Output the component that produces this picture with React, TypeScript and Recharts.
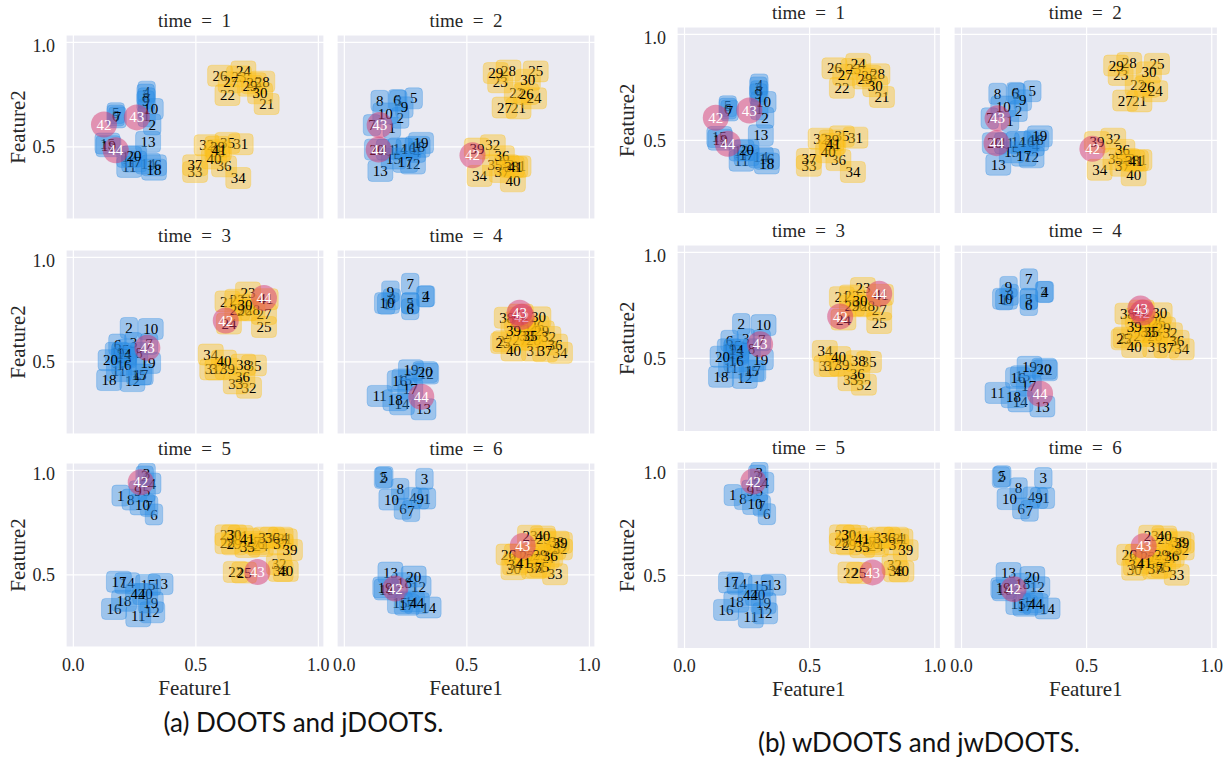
import React from 'react';
import { ScatterChart, Scatter, XAxis, YAxis, CartesianGrid } from 'recharts';

// each row is point id (index + 1) -> [Feature1, Feature2]
const time1: [number, number][] = [
  [0.299, 0.647], [0.322, 0.607], [0.295, 0.75], [0.299, 0.764], [0.173, 0.661],
  [0.173, 0.65], [0.18, 0.641], [0.299, 0.732], [0.295, 0.718], [0.316, 0.681],
  [0.228, 0.404], [0.228, 0.452], [0.305, 0.524], [0.305, 0.42], [0.139, 0.516],
  [0.329, 0.412], [0.248, 0.43], [0.329, 0.391], [0.143, 0.503], [0.248, 0.455],
  [0.789, 0.705], [0.629, 0.748], [0.676, 0.837], [0.694, 0.861], [0.737, 0.804],
  [0.599, 0.84], [0.642, 0.809], [0.771, 0.812], [0.721, 0.792], [0.762, 0.756],
  [0.683, 0.513], [0.544, 0.508], [0.497, 0.38], [0.673, 0.351], [0.629, 0.519],
  [0.615, 0.407], [0.497, 0.412], [0.588, 0.476], [0.588, 0.5], [0.574, 0.444],
  [0.594, 0.484], [0.125, 0.607], [0.259, 0.641], [0.173, 0.484],
];

const time2: [number, number][] = [
  [0.194, 0.591], [0.228, 0.639], [0.22, 0.72], [0.296, 0.476], [0.283, 0.732],
  [0.215, 0.724], [0.113, 0.604], [0.144, 0.72], [0.245, 0.689], [0.167, 0.66],
  [0.181, 0.487], [0.28, 0.42], [0.147, 0.385], [0.228, 0.492], [0.201, 0.444],
  [0.262, 0.492], [0.249, 0.428], [0.299, 0.5], [0.313, 0.519], [0.133, 0.487],
  [0.711, 0.684], [0.704, 0.76], [0.636, 0.809], [0.774, 0.732], [0.781, 0.861],
  [0.742, 0.753], [0.654, 0.688], [0.67, 0.865], [0.618, 0.853], [0.749, 0.821],
  [0.711, 0.407], [0.606, 0.508], [0.663, 0.412], [0.552, 0.361], [0.615, 0.412],
  [0.643, 0.455], [0.643, 0.38], [0.683, 0.404], [0.541, 0.492], [0.688, 0.335],
  [0.697, 0.404], [0.523, 0.46], [0.144, 0.604], [0.14, 0.487],
];

const time3: [number, number][] = [
  [0.166, 0.543], [0.227, 0.662], [0.245, 0.59], [0.22, 0.527], [0.214, 0.559],
  [0.18, 0.583], [0.309, 0.586], [0.268, 0.543], [0.193, 0.543], [0.316, 0.657],
  [0.186, 0.456], [0.241, 0.408], [0.207, 0.521], [0.207, 0.54], [0.268, 0.44],
  [0.207, 0.487], [0.275, 0.44], [0.146, 0.413], [0.305, 0.495], [0.152, 0.508],
  [0.629, 0.789], [0.669, 0.797], [0.713, 0.832], [0.635, 0.683], [0.778, 0.667],
  [0.697, 0.746], [0.778, 0.729], [0.731, 0.749], [0.669, 0.749], [0.701, 0.773],
  [0.567, 0.464], [0.717, 0.376], [0.663, 0.397], [0.561, 0.535], [0.737, 0.483],
  [0.69, 0.427], [0.588, 0.464], [0.694, 0.487], [0.629, 0.467], [0.615, 0.506],
  [0.785, 0.8], [0.622, 0.698], [0.302, 0.567], [0.778, 0.805],
];

const time4: [number, number][] = [
  [0.171, 0.778], [0.33, 0.813], [0.269, 0.779], [0.333, 0.814], [0.269, 0.781],
  [0.269, 0.752], [0.269, 0.873], [0.194, 0.8], [0.188, 0.837], [0.174, 0.781],
  [0.144, 0.337], [0.334, 0.444], [0.323, 0.273], [0.235, 0.297], [0.245, 0.416],
  [0.226, 0.408], [0.269, 0.371], [0.208, 0.317], [0.272, 0.46], [0.33, 0.451],
  [0.731, 0.67], [0.656, 0.598], [0.704, 0.689], [0.758, 0.654], [0.648, 0.59],
  [0.785, 0.67], [0.717, 0.606], [0.772, 0.606], [0.806, 0.646], [0.792, 0.713],
  [0.774, 0.554], [0.833, 0.619], [0.745, 0.625], [0.88, 0.543], [0.758, 0.625],
  [0.86, 0.583], [0.819, 0.551], [0.663, 0.711], [0.69, 0.649], [0.69, 0.554],
  [0.72, 0.726], [0.724, 0.716], [0.715, 0.735], [0.314, 0.333],
];

const time5: [number, number][] = [
  [0.193, 0.879], [0.291, 0.971], [0.299, 0.984], [0.322, 0.937], [0.299, 0.9],
  [0.329, 0.789], [0.309, 0.829], [0.234, 0.86], [0.264, 0.9], [0.282, 0.837],
  [0.265, 0.302], [0.322, 0.321], [0.356, 0.456], [0.22, 0.46], [0.305, 0.451],
  [0.166, 0.337], [0.186, 0.467], [0.207, 0.376], [0.316, 0.368], [0.293, 0.408],
  [0.683, 0.686], [0.663, 0.514], [0.629, 0.689], [0.765, 0.638], [0.697, 0.511],
  [0.751, 0.648], [0.735, 0.657], [0.629, 0.651], [0.656, 0.646], [0.656, 0.689],
  [0.863, 0.67], [0.839, 0.551], [0.785, 0.678], [0.846, 0.678], [0.71, 0.633],
  [0.812, 0.678], [0.846, 0.646], [0.846, 0.519], [0.884, 0.619], [0.867, 0.519],
  [0.71, 0.673], [0.275, 0.943], [0.751, 0.514], [0.264, 0.408],
];

const time6: [number, number][] = [
  [0.337, 0.865], [0.158, 0.963], [0.327, 0.959], [0.28, 0.868], [0.163, 0.968],
  [0.239, 0.816], [0.272, 0.805], [0.228, 0.911], [0.31, 0.865], [0.192, 0.86],
  [0.276, 0.373], [0.303, 0.444], [0.188, 0.511], [0.344, 0.344], [0.227, 0.365],
  [0.172, 0.43], [0.255, 0.357], [0.245, 0.46], [0.167, 0.44], [0.283, 0.492],
  [0.704, 0.597], [0.745, 0.589], [0.758, 0.687], [0.826, 0.581], [0.813, 0.671],
  [0.67, 0.597], [0.772, 0.575], [0.853, 0.625], [0.799, 0.597], [0.69, 0.527],
  [0.79, 0.535], [0.88, 0.622], [0.86, 0.503], [0.697, 0.549], [0.806, 0.54],
  [0.84, 0.59], [0.774, 0.532], [0.867, 0.659], [0.88, 0.654], [0.81, 0.684],
  [0.731, 0.559], [0.208, 0.435], [0.728, 0.638], [0.296, 0.365],
];

const timeSteps = [1, 2, 3, 4, 5, 6];
const pointsByTime = [time1, time2, time3, time4, time5, time6];
// ids drawn as circles at each time step
const circleIds = [[42, 43, 44], [42, 43, 44], [42, 43, 44], [42, 43, 44], [42, 43], [42, 43]];

const xTicks = [0, 0.5, 1];
const yTicks = [0.5, 1];
const X_DOMAIN: [number, number] = [-0.03, 1.023];
const Y_DOMAIN: [number, number] = [0.155, 1.035];

const SERIF = '"Liberation Serif", "Times New Roman", serif';
const BLUE = '#2a8be3';
const YELLOW = '#fdbf14';
const PINK = '#d8326c';

const figures = [
  {
    colLefts: [65.5, 337], rowTops: [35, 249.5, 463.3], w: 258, h: 184,
    yAxisW: 66, yLabelOffset: 17.7,
    caption: '(a) DOOTS and jDOOTS.', captionX: 303.5, captionY: 722,
  },
  {
    colLefts: [676.7, 953.5], rowTops: [27.3, 245, 461.5], w: 263.5, h: 186.5,
    yAxisW: 60, yLabelOffset: 10,
    caption: '(b) wDOOTS and jwDOOTS.', captionX: 919, captionY: 742,
  },
];

const buildData = (idx: number) =>
  pointsByTime[idx].map(([x, y], i) => {
    const id = i + 1;
    let kind = 'blue';
    if (circleIds[idx].includes(id)) kind = 'circle';
    else if (id >= 21 && id <= 41) kind = 'yellow';
    return { x, y, id, kind };
  });

const PointMark = (props: any) => {
  const { cx, cy, payload } = props;
  if (cx == null || cy == null) return null;
  const label = String(payload.id);
  if (payload.kind === 'circle') {
    return (
      <g>
        <circle cx={cx} cy={cy} r={13} fill={PINK} fillOpacity={0.48} />
        <text x={cx} y={cy} dy="0.34em" textAnchor="middle" fontSize={15} fontFamily={SERIF} fill="#fff">
          {label}
        </text>
      </g>
    );
  }
  const color = payload.kind === 'blue' ? BLUE : YELLOW;
  const w = label.length * 7.5 + 10;
  return (
    <g>
      <rect x={cx - w / 2} y={cy - 10.5} width={w} height={21} rx={4} ry={4}
        fill={color} fillOpacity={0.4} stroke={color} strokeOpacity={0.3} strokeWidth={1} />
      <text x={cx} y={cy} dy="0.34em" textAnchor="middle" fontSize={15} fontFamily={SERIF} fill="#000">
        {label}
      </text>
    </g>
  );
};

const tickStyle = { fontFamily: SERIF, fontSize: 18, fill: '#262626' };
const PAD = 20;

const Panel = ({ fig, idx }: { fig: any; idx: number }) => {
  const col = idx % 2;
  const row = Math.floor(idx / 2);
  const showY = col === 0;
  const showX = row === 2;
  const yw = showY ? fig.yAxisW : 0;
  const xh = showX ? 52 : 0;
  const bottom = fig.rowTops[row] + fig.h;
  const chartW = fig.w + yw + PAD * 2;
  const chartH = fig.h + xh;
  return (
    <div style={{ position: 'absolute', left: fig.colLefts[col] - yw - PAD, top: fig.rowTops[row], width: chartW, height: chartH }}>
      <ScatterChart width={chartW} height={chartH} margin={{ top: 0, right: PAD, bottom: 0, left: PAD }}>
        <CartesianGrid fill="#eaeaf2" stroke="#ffffff" strokeWidth={1.2} />
        <XAxis
          type="number" dataKey="x" domain={X_DOMAIN} ticks={xTicks} allowDataOverflow
          hide={!showX} height={xh} axisLine={false} tickLine={false} tickSize={0} tickMargin={11}
          tick={tickStyle} tickFormatter={(v: number) => v.toFixed(1)}
          label={{ value: 'Feature1', position: 'insideBottom', offset: 52 - (695 - bottom), style: { fontFamily: SERIF, fontSize: 21, fill: '#262626' } }}
        />
        <YAxis
          type="number" dataKey="y" domain={Y_DOMAIN} ticks={yTicks} allowDataOverflow
          hide={!showY} width={yw} axisLine={false} tickLine={false} tickSize={0} tickMargin={11}
          tick={tickStyle} tickFormatter={(v: number) => v.toFixed(1)}
          label={{ value: 'Feature2', angle: -90, position: 'insideLeft', offset: fig.yLabelOffset, style: { textAnchor: 'middle', fontFamily: SERIF, fontSize: 21, fill: '#262626' } }}
        />
        <Scatter data={buildData(idx)} shape={PointMark} isAnimationActive={false} />
      </ScatterChart>
    </div>
  );
};

const Figure = ({ fig }: { fig: any }) => (
  <>
    {timeSteps.map((t, idx) => {
      const col = idx % 2;
      const row = Math.floor(idx / 2);
      return (
        <div key={`title-${t}`}
          style={{
            position: 'absolute', left: fig.colLefts[col], width: fig.w, top: fig.rowTops[row] - 24,
            textAlign: 'center', fontFamily: SERIF, fontSize: 19, lineHeight: '19px', color: '#262626', whiteSpace: 'pre',
          }}>
          {`time\u2002=\u2002${t}`}
        </div>
      );
    })}
    {timeSteps.map((t, idx) => <Panel key={`panel-${t}`} fig={fig} idx={idx} />)}
    <div style={{
      position: 'absolute', left: fig.captionX - 250, width: 500, top: fig.captionY - 16,
      textAlign: 'center', fontFamily: 'Lato, "Open Sans", sans-serif', fontSize: 26, lineHeight: '32px', color: '#111',
    }}>
      {fig.caption}
    </div>
  </>
);

export default function App() {
  return (
    <div style={{ position: 'absolute', left: 0, top: 0, width: 1232, height: 758, background: '#fff', overflow: 'hidden' }}>
      {figures.map((fig, i) => <Figure key={i} fig={fig} />)}
    </div>
  );
}
